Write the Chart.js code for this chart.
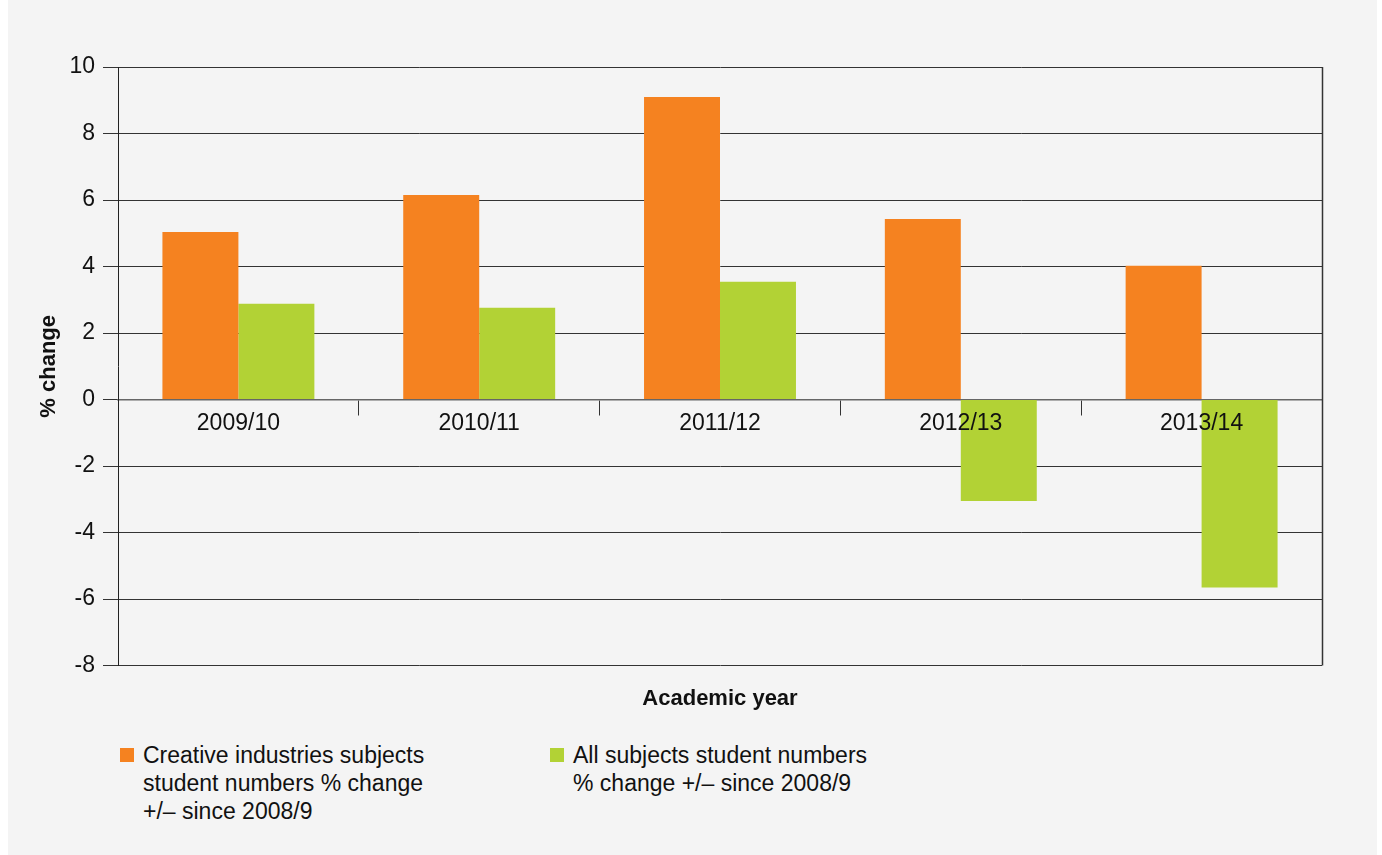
<!DOCTYPE html>
<html>
<head>
<meta charset="utf-8">
<script src="https://cdn.jsdelivr.net/npm/chart.js@4.4.0/dist/chart.umd.min.js"></script>
<style>
  html, body { margin: 0; padding: 0; background: #ffffff; width: 1382px; height: 855px; overflow: hidden; }
  #panel { position: absolute; left: 8px; top: 0; width: 1369px; height: 855px; background: #f4f4f4; }
  #wrap { position: absolute; left: 0; top: 0; width: 1369px; height: 730px; }
  #legend { position: absolute; left: 0; top: 741px; width: 1369px; font-family: "Liberation Sans", Arial, sans-serif; font-size: 23px; line-height: 28px; color: #111; }
  .item { position: absolute; top: 0; }
  .box { position: absolute; top: 7px; width: 14px; height: 14px; }
  .txt { position: absolute; top: 0; white-space: nowrap; }
</style>
</head>
<body>
<div id="panel">
  <div id="wrap"><canvas id="c"></canvas></div>
  <div id="legend"></div>
</div>
<script>
const categories = ['2009/10', '2010/11', '2011/12', '2012/13', '2013/14'];
const creativeValues = [5.04, 6.15, 9.10, 5.43, 4.02];
const allSubjectsValues = [2.88, 2.76, 3.54, -3.05, -5.65];
const yTickValues = [10, 8, 6, 4, 2, 0, -2, -4, -6, -8];
const seriesLabels = [
  'Creative industries subjects student numbers % change +/\u2013 since 2008/9',
  'All subjects student numbers % change +/\u2013 since 2008/9'
];
const legendLines = [
  ['Creative industries subjects', 'student numbers % change', '+/\u2013 since 2008/9'],
  ['All subjects student numbers', '% change +/\u2013 since 2008/9']
];
const seriesColors = ['#F58220', '#B2D235'];
const legendLeft = [112, 542];

const FONT = '"Liberation Sans", Arial, sans-serif';

const frame = {
  id: 'frame',
  afterDraw(chart) {
    const { ctx, chartArea: a } = chart;
    ctx.save();
    ctx.strokeStyle = '#333';
    ctx.lineWidth = 1.5;
    const x = Math.round(a.right) + 0.5;
    ctx.beginPath();
    ctx.moveTo(x, a.top);
    ctx.lineTo(x, a.bottom);
    ctx.stroke();
    ctx.restore();
  }
};

const chart = new Chart(document.getElementById('c'), {
  type: 'bar',
  data: {
    labels: categories,
    datasets: [
      { label: seriesLabels[0], data: creativeValues, backgroundColor: seriesColors[0], borderWidth: 0 },
      { label: seriesLabels[1], data: allSubjectsValues, backgroundColor: seriesColors[1], borderWidth: 0 }
    ]
  },
  options: {
    responsive: true,
    maintainAspectRatio: false,
    animation: false,
    datasets: { bar: { barPercentage: 1, categoryPercentage: 0.631 } },
    layout: { padding: { top: 67, right: 55, left: 0, bottom: 0 } },
    plugins: { legend: { display: false }, tooltip: { enabled: false } },
    scales: {
      x: {
        position: { y: 0 },
        offset: true,
        grid: { display: true, drawOnChartArea: false, drawTicks: true, tickLength: 15, offset: true, color: '#333', lineWidth: 1 },
        border: { display: true, color: '#666', width: 1.5 },
        ticks: { font: { family: FONT, size: 23 }, color: '#111', padding: -5, maxRotation: 0, z: 1 }
      },
      x2: {
        type: 'category',
        labels: categories,
        position: 'bottom',
        grid: { display: false, drawTicks: false },
        border: { display: false },
        ticks: { display: false },
        title: { display: true, text: 'Academic year', font: { family: FONT, size: 22, weight: 'bold' }, color: '#111', padding: { top: 20, bottom: 18 } }
      },
      y: {
        min: -8,
        max: 10,
        afterBuildTicks: axis => { axis.ticks = yTickValues.map(v => ({ value: v })); },
        afterFit: s => { s.width = 110; },
        grid: { color: '#333', lineWidth: 1, tickLength: 15, drawTicks: true },
        border: { display: true, color: '#222', width: 1 },
        ticks: { font: { family: FONT, size: 23 }, color: '#111', padding: 8 },
        title: { display: true, text: '% change', font: { family: FONT, size: 22, weight: 'bold' }, color: '#111', padding: { top: 28, bottom: 0 } }
      }
    }
  },
  plugins: [frame]
});

// HTML legend built from the chart's datasets
const legend = document.getElementById('legend');
chart.data.datasets.forEach((ds, i) => {
  const item = document.createElement('div');
  item.className = 'item';
  item.style.left = legendLeft[i] + 'px';
  const box = document.createElement('div');
  box.className = 'box';
  box.style.left = '0px';
  box.style.background = ds.backgroundColor;
  const txt = document.createElement('div');
  txt.className = 'txt';
  txt.style.left = '23px';
  txt.innerHTML = legendLines[i].join('<br>');
  item.appendChild(box);
  item.appendChild(txt);
  legend.appendChild(item);
});
</script>
</body>
</html>
